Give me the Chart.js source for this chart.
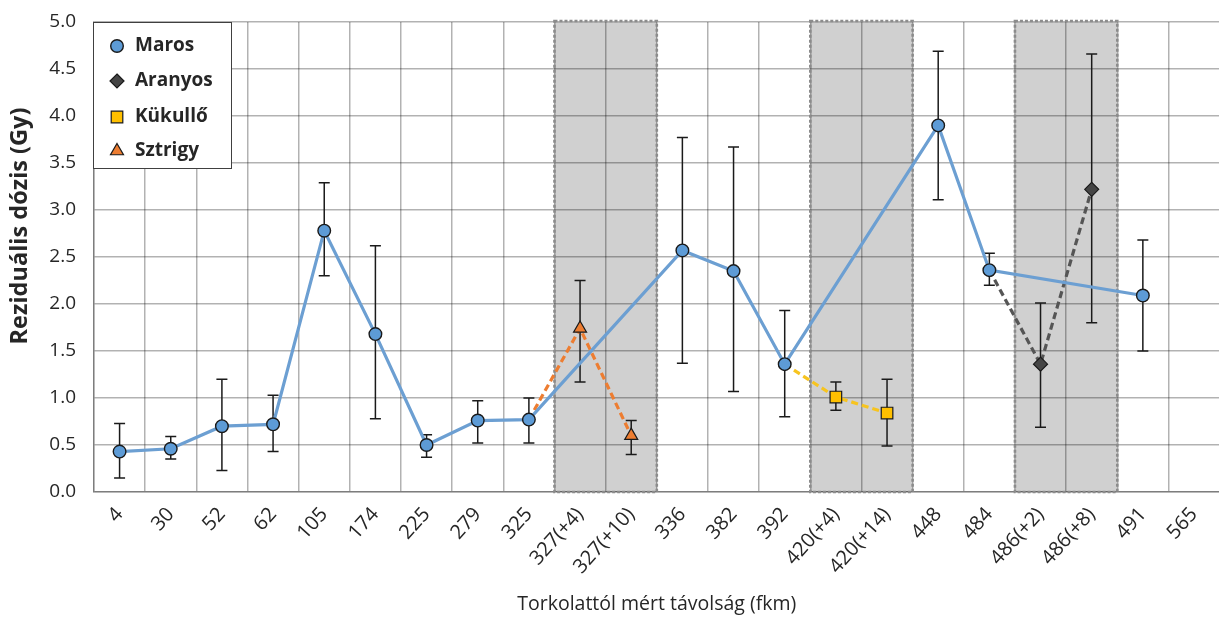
<!DOCTYPE html>
<html><head><meta charset="utf-8">
<script src="https://cdn.jsdelivr.net/npm/chart.js@4/dist/chart.umd.min.js"></script>
<style>html,body{margin:0;padding:0;background:#fff;overflow:hidden;}#wrap{width:1219px;height:617px;overflow:hidden;}</style>
</head><body><div id="wrap"><canvas id="c" width="1229" height="617"></canvas></div>
<script>
// ---- data ----
const categories = ['4','30','52','62','105','174','225','279','325','327(+4)','327(+10)','336','382','392','420(+4)','420(+14)','448','484','486(+2)','486(+8)','491','565'];
const maros   = [0.43,0.46,0.70,0.72,2.78,1.68,0.50,0.76,0.77,null,null,2.57,2.35,1.36,null,null,3.90,2.36,null,null,2.09,null];
const marosHi = [0.73,0.59,1.20,1.03,3.29,2.62,0.61,0.97,1.00,null,null,3.77,3.67,1.93,null,null,4.69,2.54,null,null,2.68,null];
const marosLo = [0.15,0.35,0.23,0.43,2.30,0.78,0.37,0.52,0.52,null,null,1.37,1.07,0.80,null,null,3.11,2.20,null,null,1.50,null];
const aranyos   = [null,null,null,null,null,null,null,null,null,null,null,null,null,null,null,null,null,2.36,1.36,3.22,null,null];
const aranyosHi = [null,null,null,null,null,null,null,null,null,null,null,null,null,null,null,null,null,null,2.01,4.66,null,null];
const aranyosLo = [null,null,null,null,null,null,null,null,null,null,null,null,null,null,null,null,null,null,0.69,1.80,null,null];
const kukullo   = [null,null,null,null,null,null,null,null,null,null,null,null,null,1.36,1.01,0.84,null,null,null,null,null,null];
const kukulloHi = [null,null,null,null,null,null,null,null,null,null,null,null,null,null,1.17,1.20,null,null,null,null,null,null];
const kukulloLo = [null,null,null,null,null,null,null,null,null,null,null,null,null,null,0.87,0.49,null,null,null,null,null,null];
const sztrigy   = [null,null,null,null,null,null,null,null,0.77,1.74,0.60,null,null,null,null,null,null,null,null,null,null,null];
const sztrigyHi = [null,null,null,null,null,null,null,null,null,2.25,0.76,null,null,null,null,null,null,null,null,null,null,null];
const sztrigyLo = [null,null,null,null,null,null,null,null,null,1.17,0.40,null,null,null,null,null,null,null,null,null,null,null];
const seriesNames = ['Maros','Aranyos','Kükullő','Sztrigy'];
const shadedRanges = [['327(+4)','327(+10)'],['420(+4)','420(+14)'],['486(+2)','486(+8)']];
const yTicks = [0,0.5,1,1.5,2,2.5,3,3.5,4,4.5,5];
const xTitle = 'Torkolattól mért távolság (fkm)';
const yTitle = 'Reziduális dózis (Gy)';

// ---- styles ----
const FONT = "'Open Sans', sans-serif";
const TXT = '#262626';
const errorSets = [[marosHi,marosLo],[aranyosHi,aranyosLo],[kukulloHi,kukulloLo],[sztrigyHi,sztrigyLo]];

function firstRadius(r){ return ctx => (ctx.dataIndex === ctx.dataset.data.findIndex(v => v !== null) ? 0 : r); }

const datasets = [
  {label:seriesNames[0], data:maros, spanGaps:true, borderColor:'#6c9fd2', borderWidth:3.2,
   pointStyle:'circle', pointRadius:6.3, pointBackgroundColor:'#5d9bd6', pointBorderColor:'#1a1a1a', pointBorderWidth:1.4},
  {label:seriesNames[1], data:aranyos, borderColor:'#555555', borderWidth:3.2, borderDash:[7,4],
   pointStyle:'rectRot', pointRadius:firstRadius(7), pointBackgroundColor:'#454545', pointBorderColor:'#1a1a1a', pointBorderWidth:1.2},
  {label:seriesNames[2], data:kukullo, borderColor:'#f7c41f', borderWidth:3.2, borderDash:[7,4],
   pointStyle:'rect', pointRadius:firstRadius(8.2), pointBackgroundColor:'#ffc000', pointBorderColor:'#1a1a1a', pointBorderWidth:1.2},
  {label:seriesNames[3], data:sztrigy, borderColor:'#ed7d31', borderWidth:3.2, borderDash:[7,4],
   pointStyle:'triangle', pointRadius:firstRadius(7.5), pointBackgroundColor:'#ed7d31', pointBorderColor:'#1a1a1a', pointBorderWidth:1.2}
];

function drawMarker(ctx, style, x, y, r, fill, stroke, bw){
  ctx.save(); ctx.beginPath(); ctx.fillStyle = fill; ctx.strokeStyle = stroke; ctx.lineWidth = bw;
  if (style === 'circle') { ctx.arc(x, y, r, 0, Math.PI*2); }
  else if (style === 'rectRot') { ctx.moveTo(x, y-r); ctx.lineTo(x+r, y); ctx.lineTo(x, y+r); ctx.lineTo(x-r, y); ctx.closePath(); }
  else if (style === 'rect') { const s = r*Math.SQRT1_2; ctx.rect(x-s, y-s, 2*s, 2*s); }
  else if (style === 'triangle') { ctx.moveTo(x, y-r); ctx.lineTo(x + r*Math.sin(Math.PI/3), y + r*0.5); ctx.lineTo(x - r*Math.sin(Math.PI/3), y + r*0.5); ctx.closePath(); }
  ctx.fill(); ctx.stroke(); ctx.restore();
}

const decor = {
  id:'decor',
  beforeDraw(chart){
    const {ctx, chartArea:a, scales:{x}} = chart;
    const half = x.width / categories.length / 2;
    ctx.save(); ctx.fillStyle = '#d0d0d0';
    for (const [s,e] of shadedRanges){
      const x0 = x.getPixelForValue(categories.indexOf(s)) - half;
      const x1 = x.getPixelForValue(categories.indexOf(e)) + half;
      ctx.fillRect(x0, a.top, x1-x0, a.bottom-a.top);
    }
    ctx.restore();
  },
  beforeDatasetsDraw(chart){
    const {ctx, chartArea:a, scales:{x,y}} = chart;
    const half = x.width / categories.length / 2;
    ctx.save(); ctx.strokeStyle = '#8c8c8c'; ctx.lineWidth = 2.6; ctx.setLineDash([3,2]);
    for (const [s,e] of shadedRanges){
      const x0 = x.getPixelForValue(categories.indexOf(s)) - half;
      const x1 = x.getPixelForValue(categories.indexOf(e)) + half;
      ctx.strokeRect(x0, a.top-1, x1-x0, a.bottom-a.top+1);
    }
    ctx.restore();
    // error bars
    ctx.save(); ctx.strokeStyle = '#1a1a1a'; ctx.lineWidth = 1.5;
    errorSets.forEach(([hi,lo]) => {
      hi.forEach((h,i) => {
        if (h === null) return;
        const px = x.getPixelForValue(i), yt = y.getPixelForValue(h), yb = y.getPixelForValue(lo[i]);
        ctx.beginPath();
        ctx.moveTo(px, yt); ctx.lineTo(px, yb);
        ctx.moveTo(px-5.5, yt); ctx.lineTo(px+5.5, yt);
        ctx.moveTo(px-5.5, yb); ctx.lineTo(px+5.5, yb);
        ctx.stroke();
      });
    });
    ctx.restore();
  },
  afterDraw(chart){
    const {ctx, chartArea:a} = chart;
    // legend
    ctx.save();
    const bx = a.left - 1, by = a.top, bw = 138, bh = 146;
    ctx.fillStyle = '#ffffff'; ctx.fillRect(bx, by, bw, bh);
    ctx.strokeStyle = '#404040'; ctx.lineWidth = 1; ctx.strokeRect(bx+0.5, by+0.5, bw, bh);
    const rows = [24, 59, 95, 129];
    chart.data.datasets.forEach((ds, i) => {
      const cy = by + rows[i];
      const r = {circle:6.3, rectRot:7, rect:8.2, triangle:7.5}[ds.pointStyle];
      drawMarker(ctx, ds.pointStyle, bx + 24, cy, r, ds.pointBackgroundColor, ds.pointBorderColor, ds.pointBorderWidth);
      ctx.fillStyle = TXT; ctx.font = "bold 19px " + FONT; ctx.textBaseline = 'middle'; ctx.textAlign = 'left';
      ctx.fillText(ds.label, bx + 42, cy);
    });
    // y title
    ctx.translate(20, 226); ctx.rotate(-Math.PI/2);
    ctx.font = "bold 23.5px " + FONT; ctx.textAlign = 'center'; ctx.textBaseline = 'middle'; ctx.fillStyle = TXT;
    ctx.fillText(yTitle, 0, 0);
    ctx.restore();
  }
};

const gridColor = 'rgba(0,0,0,0.3)';
new Chart(document.getElementById('c'), {
  type:'line',
  data:{labels:categories, datasets},
  options:{
    responsive:false, animation:false, devicePixelRatio:1,
    layout:{padding:{top:22, right:0, left:0, bottom:0}},
    plugins:{legend:{display:false}, tooltip:{enabled:false}},
    scales:{
      x:{offset:true,
         grid:{offset:true, color:gridColor, lineWidth:1.5, drawTicks:false},
         border:{color:gridColor, width:1.5},
         ticks:{autoSkip:false, maxRotation:48, minRotation:48, padding:11, color:TXT, font:{family:FONT, size:20}},
         title:{display:true, text:xTitle, color:TXT, font:{family:FONT, size:19.5}, padding:{top:0, bottom:1}},
         afterFit(s){ s.height = 125; s.paddingLeft = 0; s.paddingRight = 0; }},
      y:{min:0, max:5,
         afterBuildTicks(s){ s.ticks = yTicks.map(v => ({value:v})); },
         grid:{color:gridColor, lineWidth:1.5, drawTicks:false},
         border:{color:gridColor, width:1.5},
         ticks:{padding:18, color:TXT, font:{family:FONT, size:19}, callback:v => Number(v).toFixed(1)},
         afterFit(s){ s.width = 94; s.paddingTop = 0; s.paddingBottom = 0; }}
    }
  },
  plugins:[decor]
});
</script>
</body></html>
